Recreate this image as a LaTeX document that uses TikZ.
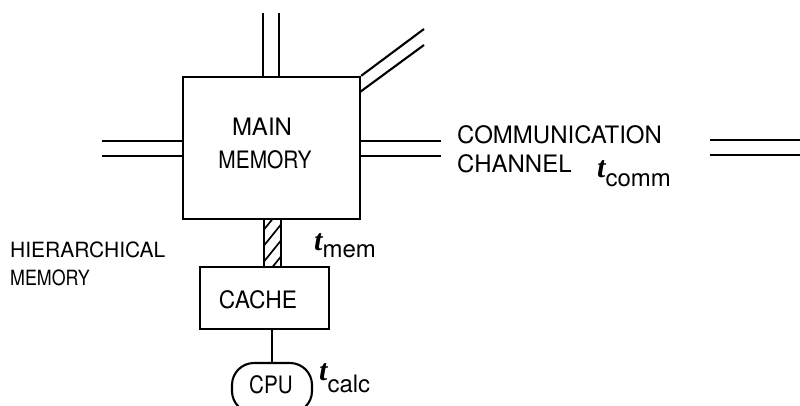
\documentclass[tikz,border=0pt]{standalone}
\usepackage{fontspec}
\usepackage{graphicx}
\setmainfont{TeX Gyre Heros}
\newfontfamily\tfont{Liberation Serif}
\newcommand{\tvar}{{\tfont\bfseries\itshape\fontsize{30}{30}\selectfont t}}
\begin{document}
\begin{tikzpicture}[x=1pt,y=-1pt,
  box/.style={draw, line width=2.3pt, inner sep=0pt},
  dbl/.style={line width=2.1pt},
  lab/.style={inner sep=0pt, font=\fontsize{24}{24}\selectfont},
  slab/.style={inner sep=0pt, font=\fontsize{21}{21}\selectfont},
  tlab/.style={inner sep=0pt, font=\fontsize{24}{24}\selectfont}]
\useasboundingbox (0,0) rectangle (800,405);
\clip (0,0) rectangle (800,405);
% main memory
\node[box, minimum width=177pt, minimum height=142pt] (mm) at (271.5,148) {};
\node[lab, anchor=base] (main) at (262,135) {MAIN};
\node[lab, anchor=base] (mem) at (265,168) {\scalebox{0.87}[1]{MEMORY}};
% top double line
\coordinate (ta) at (263,13);
\coordinate (tb) at (279,13);
\draw[dbl] (ta) -- (ta |- mm.north);
\draw[dbl] (tb) -- (tb |- mm.north);
% diagonal double line
\coordinate (da) at (424,29);
\coordinate (db) at (424,45);
\coordinate (dbs) at (360,92);
\draw[dbl] (mm.north east) -- (da);
\draw[dbl] (dbs) -- (db);
% left double line
\coordinate (la) at (102,141);
\coordinate (lb) at (102,156);
\draw[dbl] (la) -- (la -| mm.west);
\draw[dbl] (lb) -- (lb -| mm.west);
% right double line
\coordinate (ra) at (441,141);
\coordinate (rb) at (441,156);
\draw[dbl] (ra) -- (ra -| mm.east);
\draw[dbl] (rb) -- (rb -| mm.east);
% far right double line
\coordinate (fa) at (710,140);
\coordinate (fae) at (800,140);
\coordinate (fb) at (710,155);
\coordinate (fbe) at (800,155);
\draw[dbl] (fa) -- (fae);
\draw[dbl] (fb) -- (fbe);
% cache
\node[box, line width=2.1pt, minimum width=129pt, minimum height=62pt] (cache) at (264.5,298) {};
\node[lab, anchor=base] (cachet) at (258,308) {\scalebox{0.95}[1]{CACHE}};
% hatched bar
\node[draw, line width=1.9pt, inner sep=0pt, minimum width=17pt, minimum height=48pt] (bar) at (272.5,243) {};
\begin{scope}
\clip (bar.south west) rectangle (bar.north east);
\foreach \y in {232,248,264,280} \draw[line width=1.7pt] (262,\y) -- ++(21,-26);
\end{scope}
% cpu
\node[draw, line width=2.1pt, rounded corners=22pt, minimum width=80pt, minimum height=50pt, inner sep=0pt] (cpu) at (272,388) {};
\node[lab, anchor=base] (cput) at (271,393) {\scalebox{0.86}[1]{CPU}};
\draw[line width=1.6pt] (cpu.north) -- (cpu.north |- cache.south);
% labels
\node[tlab, anchor=base west] (tmem) at (314,250) {\tvar\raisebox{-7pt}{mem}};
\node[tlab, anchor=base west] (tcalc) at (319,380) {\tvar\raisebox{-12pt}{calc}};
\node[tlab, anchor=base west] (tcomm) at (597,177) {\tvar\raisebox{-9pt}{comm}};
\node[slab, anchor=base west] (hier) at (10,257) {HIERARCHICAL};
\node[slab, anchor=base west] (hmem) at (10,285) {\scalebox{0.85}[1]{MEMORY}};
\node[lab, anchor=base west] (comm) at (457,143) {COMMUNICATION};
\node[lab, anchor=base west] (chan) at (457,172) {CHANNEL};
\end{tikzpicture}
\end{document}
